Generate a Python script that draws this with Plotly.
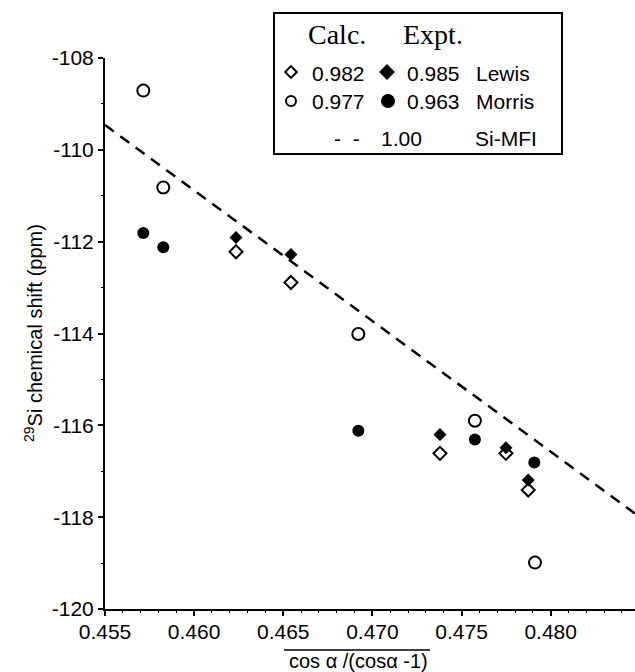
import plotly.graph_objects as go

# ---------------- data ----------------
calc_lewis_x = [0.46235, 0.46543, 0.47379, 0.47749, 0.47874]
calc_lewis_y = [-112.22, -112.89, -116.61, -116.61, -117.41]

expt_lewis_x = [0.46235, 0.46543, 0.47379, 0.47749, 0.47874]
expt_lewis_y = [-111.91, -112.28, -116.20, -116.49, -117.19]

calc_morris_x = [0.45715, 0.45827, 0.46921, 0.47575, 0.47912]
calc_morris_y = [-108.71, -110.82, -114.01, -115.90, -118.99]

expt_morris_x = [0.45715, 0.45827, 0.46921, 0.47575, 0.47908]
expt_morris_y = [-111.81, -112.12, -116.12, -116.31, -116.81]

simfi_x = [0.4550, 0.48473]
simfi_y = [-109.46, -117.92]

x_ticks = [0.455, 0.460, 0.465, 0.470, 0.475, 0.480]
x_tick_labels = ["0.455", "0.460", "0.465", "0.470", "0.475", "0.480"]
y_ticks = [-120, -118, -116, -114, -112, -110, -108]
y_tick_labels = ["-120", "-118", "-116", "-114", "-112", "-110", "-108"]

# ---------------- layout helpers ----------------
W, H = 635, 672
PL, PR, PT, PB = 105, 635, 58, 609


def fx(px):
    return (px - PL) / (PR - PL)


def fy(py):
    return (PB - py) / (PB - PT)


SANS = "Liberation Sans"
SERIF = "Liberation Serif"

fig = go.Figure()

fig.add_trace(go.Scatter(x=simfi_x, y=simfi_y, mode="lines",
                         line=dict(color="black", width=2.5, dash="11px,8px"),
                         showlegend=False, hoverinfo="skip"))
fig.add_trace(go.Scatter(x=calc_lewis_x, y=calc_lewis_y, mode="markers",
                         marker=dict(symbol="diamond-open", size=10, color="black",
                                     line=dict(width=2, color="black")),
                         showlegend=False))
fig.add_trace(go.Scatter(x=expt_lewis_x, y=expt_lewis_y, mode="markers",
                         marker=dict(symbol="diamond", size=10, color="black"),
                         showlegend=False))
fig.add_trace(go.Scatter(x=calc_morris_x, y=calc_morris_y, mode="markers",
                         marker=dict(symbol="circle-open", size=12, color="black",
                                     line=dict(width=2, color="black")),
                         showlegend=False))
fig.add_trace(go.Scatter(x=expt_morris_x, y=expt_morris_y, mode="markers",
                         marker=dict(symbol="circle", size=12, color="black"),
                         showlegend=False))

# legend key markers on a hidden pixel-space axis pair
leg_markers = [
    (291, 72, "diamond-open", 9),
    (387, 72, "diamond", 10),
    (291, 101, "circle-open", 10),
    (388, 101, "circle", 12),
]
for mx, my, sym, sz in leg_markers:
    fig.add_trace(go.Scatter(x=[mx], y=[my], xaxis="x2", yaxis="y2", mode="markers",
                             marker=dict(symbol=sym, size=sz, color="black",
                                         line=dict(width=2, color="black")),
                             cliponaxis=False, showlegend=False, hoverinfo="skip"))

annotations = []


def txt(text, px, py, size, family=SANS, xanchor="center"):
    annotations.append(dict(text=text, x=fx(px), y=fy(py), xref="paper", yref="paper",
                            xanchor=xanchor, yanchor="middle", showarrow=False,
                            font=dict(family=family, size=size, color="black")))


txt("Calc.", 337, 34, 28, SERIF)
txt("Expt.", 433, 34, 28, SERIF)
txt("0.982", 338, 73, 21)
txt("0.985", 433, 73, 21)
txt("Lewis", 474, 73, 21, xanchor="left")
txt("0.977", 338, 102, 21)
txt("0.963", 433, 102, 21)
txt("Morris", 474, 102, 21, xanchor="left")
txt("-  -", 347, 138, 21)
txt("1.00", 401, 138, 21)
txt("Si-MFI", 473, 138, 21, xanchor="left")

# axis titles
txt("cos \u03b1 /(cos\u03b1 -1)", 358, 661, 20)
annotations.append(dict(text="<sup>29</sup>Si chemical shift (ppm)", x=fx(33), y=fy(333),
                        xref="paper", yref="paper", xanchor="center", yanchor="middle",
                        textangle=-90, showarrow=False,
                        font=dict(family=SANS, size=20, color="black")))

shapes = [
    dict(type="rect", xref="paper", yref="paper", x0=fx(274), x1=fx(562),
         y0=fy(154), y1=fy(13), line=dict(color="black", width=2), fillcolor="white",
         layer="below"),
    dict(type="line", xref="paper", yref="paper", x0=fx(284), x1=fx(430),
         y0=fy(650), y1=fy(650), line=dict(color="black", width=1.5)),
]

fig.update_layout(
    width=W, height=H,
    margin=dict(l=PL, r=W - PR, t=PT, b=H - PB, pad=0),
    paper_bgcolor="white", plot_bgcolor="white",
    showlegend=False,
    annotations=annotations,
    shapes=shapes,
    xaxis=dict(range=[0.455, 0.48473], tickvals=x_ticks, ticktext=x_tick_labels,
               showgrid=False, zeroline=False, showline=True, linecolor="black",
               linewidth=2, ticks="outside", ticklen=5, tickwidth=1.5, tickcolor="black",
               ticklabelstandoff=-2,
               minor=dict(dtick=0.001, tick0=0.455, ticks="outside", ticklen=2,
                          tickcolor="black", tickwidth=1),
               tickfont=dict(family=SANS, size=21, color="black")),
    yaxis=dict(range=[-120, -108], tickvals=y_ticks, ticktext=y_tick_labels,
               showgrid=False, zeroline=False, showline=True, linecolor="black",
               linewidth=2, ticks="outside", ticklen=5, tickwidth=1.5, tickcolor="black",
               minor=dict(dtick=1, tick0=-120, ticks="outside", ticklen=2,
                          tickcolor="black", tickwidth=1),
               tickfont=dict(family=SANS, size=21, color="black")),
    xaxis2=dict(range=[PL, PR], overlaying="x", visible=False, fixedrange=True),
    yaxis2=dict(range=[PB, PT], overlaying="y", visible=False, fixedrange=True),
)

fig.write_html("out.html")
